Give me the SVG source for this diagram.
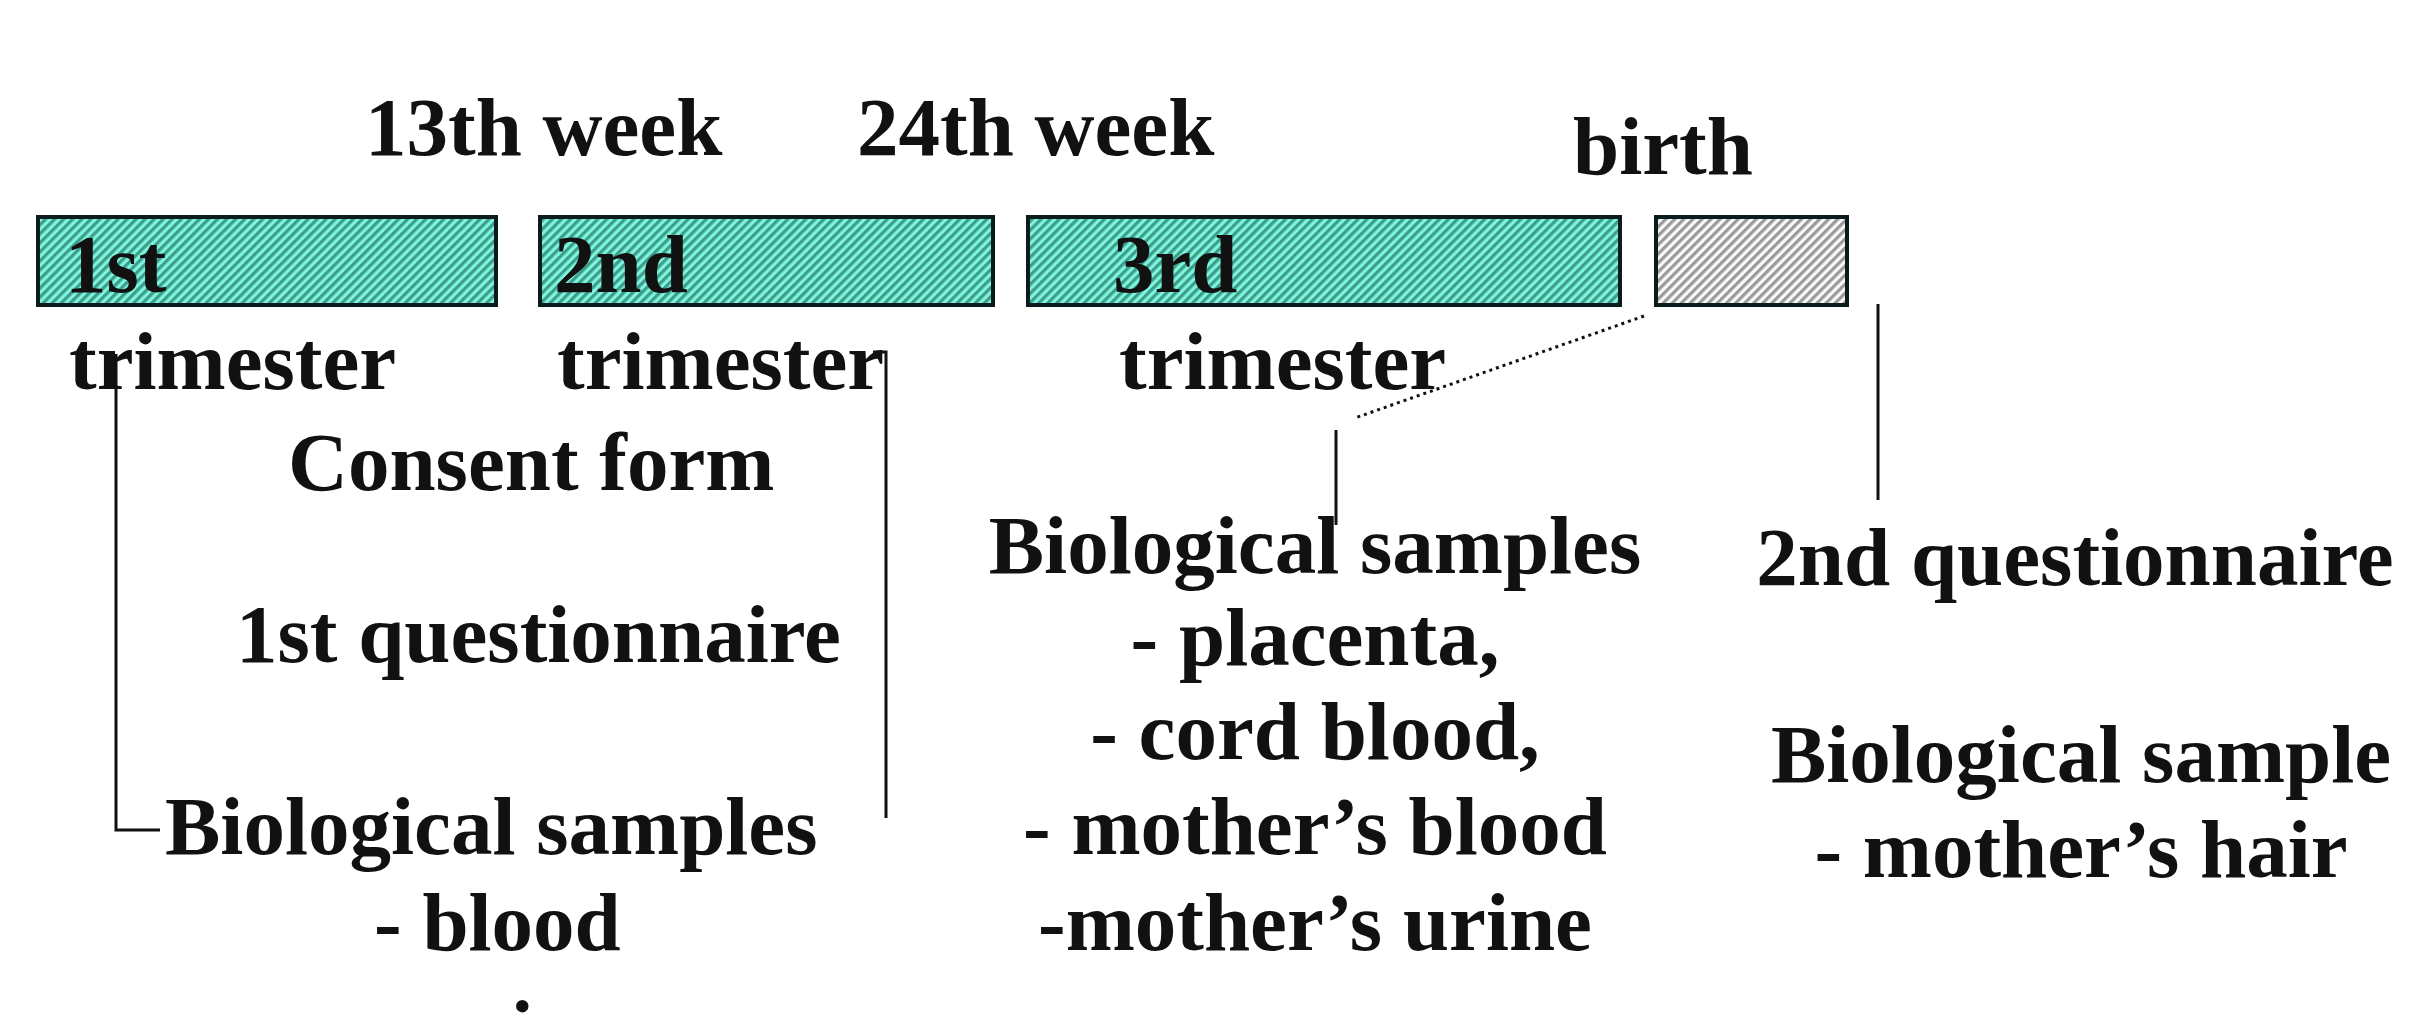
<svg xmlns="http://www.w3.org/2000/svg" width="2414" height="1013" viewBox="0 0 2414 1013">
  <style>
    text { font-family: "Liberation Serif", "Times New Roman", serif; font-weight: bold; font-size: 83px; fill: #111; }
    .box { stroke: #0c1c1c; stroke-width: 4; }
    .teal { fill: url(#hatchTeal); }
    .grey { fill: url(#hatchGrey); }
    .conn { stroke: #111; stroke-width: 3; fill: none; }
    .dot { stroke: #111; stroke-width: 3; fill: none; stroke-dasharray: 3 4; }
  </style>
  <defs>
    <pattern id="hatchTeal" patternUnits="userSpaceOnUse" width="6.4" height="6.4" patternTransform="rotate(45)">
      <rect width="6.4" height="6.4" fill="#7cf6dd"/>
      <rect width="3.2" height="6.4" fill="#3f9c8b"/>
    </pattern>
    <pattern id="hatchGrey" patternUnits="userSpaceOnUse" width="6.4" height="6.4" patternTransform="rotate(45)">
      <rect width="6.4" height="6.4" fill="#fafafa"/>
      <rect width="3.2" height="6.4" fill="#9a9a9a"/>
    </pattern>
  </defs>
  <rect width="2414" height="1013" fill="#ffffff"/>

  <g id="week-labels">
    <text x="365" y="155">13th week</text>
    <text x="857" y="155">24th week</text>
    <text x="1573" y="174">birth</text>
  </g>

  <g id="trimester1">
    <rect class="box teal" x="38" y="217" width="458" height="88"/>
    <text x="65" y="292">1st</text>
    <text x="69" y="389">trimester</text>
  </g>
  <g id="trimester2">
    <rect class="box teal" x="540" y="217" width="453" height="88"/>
    <text x="554" y="292">2nd</text>
    <text x="557" y="389">trimester</text>
  </g>
  <g id="trimester3">
    <rect class="box teal" x="1028" y="217" width="592" height="88"/>
    <text x="1113" y="292">3rd</text>
    <text x="1119" y="389">trimester</text>
  </g>
  <g id="birth-box">
    <rect class="box grey" x="1656" y="217" width="191" height="88"/>
  </g>

  <g id="first-visit">
    <text x="288" y="490">Consent form</text>
    <text x="236" y="662">1st questionnaire</text>
    <text x="165" y="854">Biological samples</text>
    <text x="374" y="950">- blood</text>
    <text x="379" y="1057">- urine</text>
  </g>

  <g id="birth-samples">
    <text x="1315" y="573" text-anchor="middle">Biological samples</text>
    <text x="1315" y="665" text-anchor="middle">- placenta,</text>
    <text x="1315" y="759" text-anchor="middle">- cord blood,</text>
    <text x="1315" y="854" text-anchor="middle">- mother’s blood</text>
    <text x="1315" y="950" text-anchor="middle">-mother’s urine</text>
  </g>

  <g id="after-birth">
    <text x="2075" y="585" text-anchor="middle">2nd questionnaire</text>
    <text x="2081" y="782" text-anchor="middle">Biological sample</text>
    <text x="2081" y="877" text-anchor="middle">- mother’s hair</text>
  </g>

  <g id="connectors">
    <polyline class="conn" points="116,354 116,830 160,830"/>
    <polyline class="conn" points="873,352 886,352 886,818"/>
    <line class="dot" x1="1644" y1="316" x2="1355" y2="418"/>
    <line class="conn" x1="1336" y1="430" x2="1336" y2="525"/>
    <line class="conn" x1="1878" y1="304" x2="1878" y2="500"/>
  </g>
</svg>
